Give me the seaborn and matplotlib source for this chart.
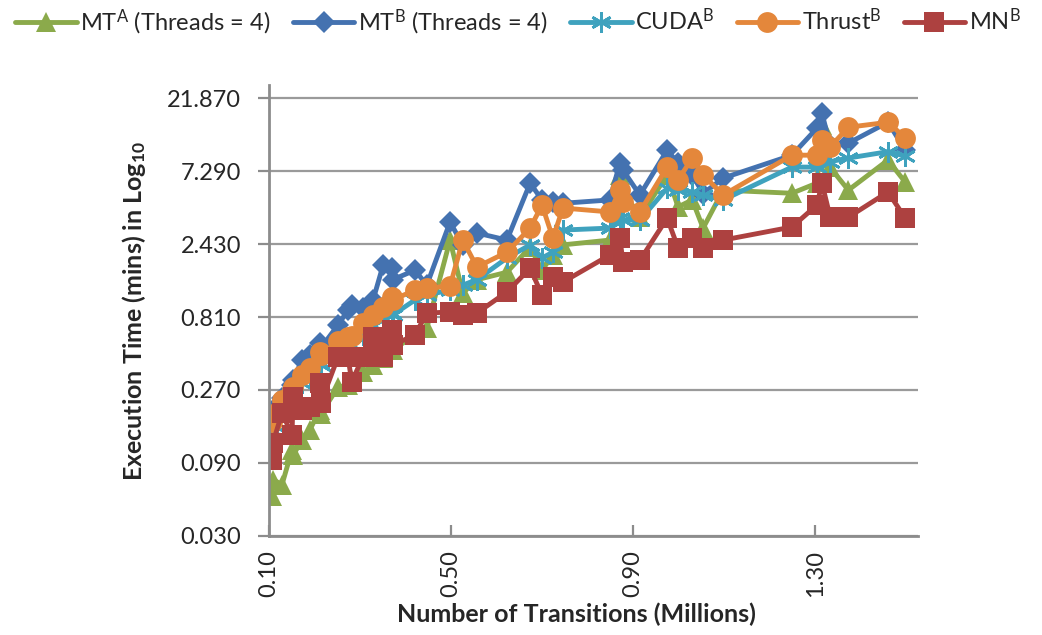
import matplotlib
matplotlib.use("Agg")
import matplotlib.pyplot as plt
import pandas as pd
import seaborn as sns

sns.set_theme(style="white")
plt.rcParams['font.family'] = ['Lato', 'DejaVu Sans']
plt.rcParams['mathtext.fontset'] = 'custom'
plt.rcParams['mathtext.rm'] = 'Lato'
plt.rcParams['mathtext.it'] = 'Lato:italic'
plt.rcParams['mathtext.bf'] = 'Lato:bold'

# Number of transitions (millions) for each benchmark model
transitions = [0.107, 0.109, 0.129, 0.151, 0.153, 0.173, 0.190, 0.212, 0.214, 0.252,
               0.274, 0.282, 0.307, 0.329, 0.351, 0.370, 0.372, 0.421, 0.447, 0.498,
               0.526, 0.557, 0.623, 0.674, 0.700, 0.724, 0.746, 0.849, 0.871, 0.878,
               0.915, 0.975, 0.999, 1.030, 1.054, 1.098, 1.249, 1.304, 1.315, 1.333,
               1.373, 1.460, 1.498]

# Execution time (minutes)
mt_a = [0.055, 0.070, 0.065, 0.110, 0.101, 0.127, 0.148, 0.200, 0.188, 0.282,
        0.291, 0.314, 0.354, 0.393, 0.437, 0.531, 0.493, 0.618, 0.686, 2.58,
        1.16, 1.42, 1.59, 2.32, 1.64, 2.06, 2.40, 2.58, 6.88, 5.47,
        3.64, 6.88, 4.25, 4.72, 3.09, 5.47, 5.22, 6.08, 14.5, 7.7,
        5.47, 8.6, 6.17]
mt_b = [0.177, 0.200, 0.239, 0.291, 0.314, 0.424, 0.457, 0.548, 0.508, 0.718,
        0.899, 0.970, 0.923, 1.047, 1.77, 1.69, 1.42, 1.64, 1.31, 3.38,
        2.40, 2.87, 2.58, 6.08, 4.72, 4.57, 4.49, 4.72, 8.22, 7.40,
        5.08, 9.99, 8.22, 6.88, 5.20, 6.56, 9.26, 13.9, 17.4, 10.8,
        11.1, 15.2, 9.99]
cuda_b = [0.148, 0.159, 0.206, 0.243, 0.250, 0.300, 0.338, 0.411, 0.393, 0.493,
          0.531, 0.532, 0.618, 0.718, 0.774, 0.860, 0.834, 1.047, 1.128, 1.215,
          1.31, 1.42, 1.97, 2.40, 1.97, 2.15, 3.00, 3.09, 3.59, 3.48,
          3.48, 5.64, 5.47, 5.32, 5.08, 4.72, 7.74, 7.74, 8.60, 8.40,
          8.87, 9.76, 9.12]
thrust_b = [0.167, 0.188, 0.232, 0.270, 0.282, 0.338, 0.376, 0.478, 0.457, 0.564,
            0.600, 0.605, 0.740, 0.834, 0.941, 1.094, 1.047, 1.215, 1.256, 1.29,
            2.58, 1.72, 2.15, 3.09, 4.37, 2.66, 4.18, 3.94, 5.47, 4.57,
            3.94, 7.74, 6.37, 8.87, 6.88, 5.08, 9.26, 9.26, 11.6, 10.5,
            14.1, 15.2, 12.0]
mn_b = [0.094, 0.122, 0.191, 0.137, 0.243, 0.200, 0.209, 0.300, 0.222, 0.444,
        0.445, 0.305, 0.446, 0.600, 0.443, 0.666, 0.531, 0.618, 0.860, 0.873,
        0.834, 0.860, 1.18, 1.69, 1.128, 1.479, 1.371, 2.06, 2.66, 1.853,
        1.90, 3.59, 2.29, 2.66, 2.28, 2.58, 3.14, 4.37, 6.08, 3.65,
        3.64, 5.32, 3.59]

series_labels = ["MT$^{\\mathrm{A}}$ (Threads = 4)", "MT$^{\\mathrm{B}}$ (Threads = 4)",
                 "CUDA$^{\\mathrm{B}}$", "Thrust$^{\\mathrm{B}}$", "MN$^{\\mathrm{B}}$"]
y_ticks = [0.030, 0.090, 0.270, 0.810, 2.430, 7.290, 21.870]
x_ticks = [0.10, 0.50, 0.90, 1.30]

styles = [
    dict(color="#8BAA4B", marker="^", markersize=14),
    dict(color="#4472B0", marker="D", markersize=11),
    dict(color="#3FA2BE", marker=(6, 2, 0), markersize=15, markeredgewidth=2),
    dict(color="#E4873B", marker="o", markersize=15),
    dict(color="#AD4140", marker="s", markersize=14),
]

fig = plt.figure(figsize=(10.42, 6.35), dpi=100)
ax = fig.add_axes([0.258, 0.156, 0.623, 0.710])

for values, label, st in zip([mt_a, mt_b, cuda_b, thrust_b, mn_b], series_labels, styles):
    df = pd.DataFrame({"transitions": transitions, "mins": values})
    kw = dict(st)
    kw.setdefault("markeredgewidth", 0)
    kw["markeredgecolor"] = st["color"]
    sns.lineplot(data=df, x="transitions", y="mins", sort=False, estimator=None,
                 linewidth=3.5, label=label, ax=ax, **kw)

ax.set_yscale("log")
ax.set_ylim(0.030, 26.6)
ax.set_xlim(0.10, 1.526)
ax.set_yticks(y_ticks)
ax.set_yticklabels([f"{v:.3f}" for v in y_ticks])
ax.yaxis.set_minor_locator(matplotlib.ticker.NullLocator())
ax.set_xticks(x_ticks)
ax.set_xticklabels([f"{v:.2f}" for v in x_ticks], rotation=90)

ax.grid(axis="y", color="#9a9a9a", linewidth=1.6)
ax.grid(axis="x", visible=False)
ax.set_axisbelow(True)
for side in ("top", "right"):
    ax.spines[side].set_visible(False)
for side in ("left", "bottom"):
    ax.spines[side].set_color("#8c8c8c")
    ax.spines[side].set_linewidth(2)

ax.tick_params(axis="y", direction="out", length=8, width=1.6, color="#8c8c8c",
               labelsize=17, pad=12, left=True)
ax.tick_params(axis="x", direction="in", length=8, width=1.6, color="#8c8c8c",
               labelsize=17, pad=10, bottom=True)

ax.set_xlabel("Number of Transitions (Millions)", fontsize=18, fontweight="bold")
ax.xaxis.set_label_coords(0.474, -0.148)
ax.set_ylabel("Execution Time (mins) in Log$_{\\mathbf{10}}$", fontsize=18,
              fontweight="bold", labelpad=14)

handles, labels = ax.get_legend_handles_labels()
ax.get_legend().remove()
fig.legend(handles, labels, loc="upper center", bbox_to_anchor=(0.497, 1.022), ncol=5,
           frameon=False, fontsize=17, handlelength=2.6, handletextpad=0.15,
           columnspacing=0.95)

fig.savefig("out.png", dpi=100)
